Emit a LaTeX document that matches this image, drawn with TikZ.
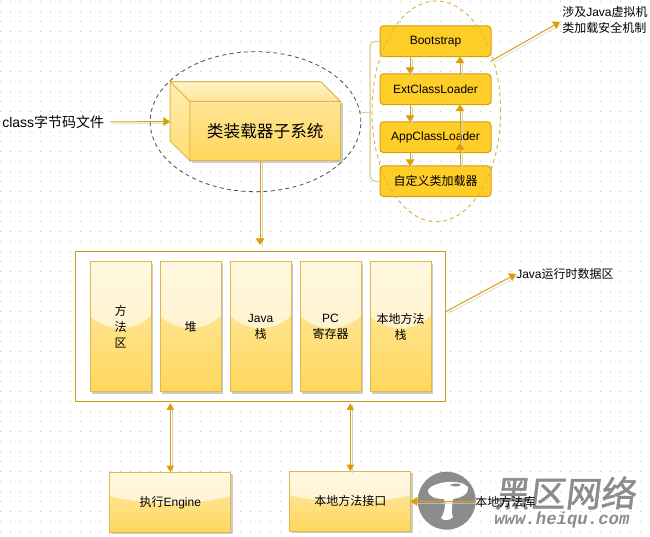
\documentclass[tikz,border=0pt]{standalone}
\usepackage{fontspec}
\setmainfont{Liberation Sans}
\setmonofont{Liberation Mono}
\newfontfamily\cjk{Noto Sans CJK SC}
\newfontfamily\markfont[FakeSlant=0.12,FakeBold=1.5]{Noto Sans CJK SC}
\usetikzlibrary{arrows.meta,calc,shapes.geometric,shadows}
\definecolor{flowgold}{HTML}{DB9E05}
\definecolor{areagold}{HTML}{C99A20}
\definecolor{loaderfill}{HTML}{FFCD28}
\definecolor{palegold}{HTML}{FFEDB0}
\definecolor{deepgold}{HTML}{FFD75C}
\definecolor{edgegold}{HTML}{E0B74F}
\definecolor{markgray}{HTML}{8C8C8C}
\tikzset{
	flow/.style={draw=flowgold,line width=0.75pt,-{Triangle[length=5pt,width=6.5pt]},
		preaction={draw=black!18,-,transform canvas={xshift=1.5pt,yshift=-1.5pt}}},
	flowboth/.style={flow,{Triangle[length=5pt,width=5.5pt]}-{Triangle[length=5pt,width=5.5pt]}},
	gloss/.style n args={2}{path picture={\fill[white,opacity=.62]
		(path picture bounding box.north west) -- ++(0,#1)
		to[out=#2,in=180-#2] ($(path picture bounding box.north east)+(0,#1)$)
		-- (path picture bounding box.north east) -- cycle;}},
	goldbox/.style={draw=edgegold,line width=0.75pt,top color=palegold,bottom color=deepgold,
		inner sep=0pt,outer sep=0pt,align=center,font=\fontsize{9}{12}\selectfont,
		drop shadow={fill=black!20,opacity=1,shadow xshift=1.5pt,shadow yshift=-1.5pt}},
	columnbox/.style={goldbox,minimum width=45.75pt,minimum height=97.5pt,gloss={54}{-45}},
	basebox/.style={goldbox,minimum width=90.5pt,minimum height=45pt,gloss={24}{-12}},
	loaderbox/.style={draw=flowgold,line width=0.75pt,fill=loaderfill,rounded corners=2.5pt,
		minimum width=83.25pt,minimum height=22.9pt,inner sep=0pt,outer sep=0pt,
		font=\fontsize{9}{11}\selectfont},
	note/.style={anchor=west,inner sep=0pt,font=\fontsize{9}{12}\selectfont,align=left},
	griddot/.style={fill=black!25},
}
\begin{document}
\begin{tikzpicture}[x=0.75pt,y=-0.75pt]
	\useasboundingbox (0,0) rectangle (650,536);
	\foreach \x in {0,10,...,650}
		\foreach \y in {1,11,...,531}
			\fill[griddot] (\x,\y) rectangle ++(1,1);

	% class loading subsystem
	\coordinate (backtl) at (170,81.5);
	\coordinate (backtr) at (320.6,81.5);
	\coordinate (backbl) at (170,141);
	\node[goldbox,minimum width=113pt,minimum height=44.6pt,top color=deepgold!65!white,
		font=\cjk\fontsize{12.5}{14}\selectfont] (front) at (265.3,131.2) {类装载器子系统};
	\draw[edgegold,line width=0.75pt,top color=palegold,bottom color=deepgold!85!white]
		(backtl)--(front.north west)--(front.south west)--(backbl)--cycle;
	\draw[edgegold,line width=0.75pt,top color=palegold!70!white,bottom color=deepgold!65!white]
		(backtl)--(backtr)--(front.north east)--(front.north west)--cycle;

	\node[anchor=west,inner sep=0pt,font=\fontsize{10.5}{12}\selectfont] (classfile)
		at (2,122) {class{\cjk 字节码文件}};
	\coordinate (sideface) at (170,121.5);
	\draw[flow,shorten <=5pt] (classfile.east) -- (sideface);

	% loaders
	\foreach \y/\nm/\texn in {41.25/boot/Bootstrap,89.25/ext/ExtClassLoader,
		137.25/app/AppClassLoader,181.25/custom/{\cjk 自定义类加载器}}
		\path (435.5,\y) node[loaderbox](\nm){\texn};
	\coordinate (dnx) at (410,0);
	\coordinate (upx) at (460,0);
	\coordinate (apptip) at (460,143);
	\foreach \a/\b in {boot/ext,ext/app,app/custom}
		\draw[flow] (\a.south -| dnx) -- (\b.north -| dnx);
	\draw[flow] (ext.north -| upx) -- (boot.south -| upx);
	\draw[flow] (apptip) -- (ext.south -| upx);
	\draw[flow] (custom.north -| upx) -- (apptip);

	\coordinate (bracex) at (370,112);
	\coordinate (bracetail) at (361,112);
	\begin{scope}[line width=0.75pt,rounded corners=4pt]
		\draw[black!18,xshift=1pt,yshift=-1pt] (boot.west) -| (bracex) |- (custom.west);
		\draw[edgegold!70!white] (boot.west) -| (bracex) |- (custom.west);
		\draw[edgegold!70!white] (bracetail) -- (bracex);
	\end{scope}

	% runtime data area
	\node[draw=areagold,fill=white,line width=0.75pt,minimum width=277.8pt,
		minimum height=112.5pt,inner sep=0pt,outer sep=0pt] (area) at (260.5,326.3) {};
	\foreach \x/\texn in {120.5/{{\cjk 方}\\{\cjk 法}\\{\cjk 区}},190.5/{\cjk 堆},
		260.5/{Java\\{\cjk 栈}},330.5/{PC\\{\cjk 寄存器}},400.5/{{\cjk 本地方法}\\{\cjk 栈}}}
		\path (\x,326.5) node[columnbox](col\x){\texn};

	\coordinate (areain) at (260,245);
	\draw[flow] (front.south -| areain) -- (areain);

	% execution and native interface
	\node[basebox] (engine) at (170.3,502.3) {{\cjk 执行}Engine};
	\node[basebox,font=\cjk\fontsize{9}{12}\selectfont] (native) at (350.3,501.3) {本地方法接口};
	\draw[flowboth,shorten >=1.5pt] (engine.north) -- (engine.north |- area.south);
	\draw[flowboth,shorten >=1.5pt] (native.north) -- (native.north |- area.south);

	% watermark
	\node[circle,fill=markgray,minimum size=43.5pt,inner sep=0pt] (logo) at (446.7,500.7) {};
	\fill[white] (428,490) .. controls (432,482) and (460,478) .. (468,487)
		.. controls (469,496) and (458,498) .. (453,499)
		.. controls (452,507) and (451,514) .. (453,517)
		.. controls (450,521) and (443,521) .. (441,518)
		.. controls (445,512) and (446,505) .. (444,499)
		.. controls (436,499) and (428,497) .. (428,490) -- cycle;
	\fill[markgray] (450,485) .. controls (454,483) and (459,483) .. (461,485)
		.. controls (458,487) and (453,487) .. (450,485) -- cycle;
	\node[anchor=west,inner sep=0pt,text=markgray,font=\markfont\fontsize{26.5}{30}\selectfont]
		(markcn) at (494,493) {黑区网络};
	\node[anchor=west,inner sep=0pt,text=markgray,font=\ttfamily\bfseries\itshape\fontsize{13}{15}\selectfont]
		(markurl) at (494,520) {www.heiqu.com};

	\node[note,font=\cjk\fontsize{9}{12}\selectfont] (nativelib) at (475,501.7) {本地方法库};
	\draw[flow] (nativelib.west) -- (native.east);

	% notes
	\node[note] (jvmnote) at (562,20) {{\cjk 涉及}Java{\cjk 虚拟机}\\{\cjk 类加载安全机制}};
	\coordinate (bootexit) at (491,61);
	\coordinate (jvmtip) at (560,22);
	\draw[flow] (bootexit) -- (jvmtip);
	\node[note] (areanote) at (516,274) {Java{\cjk 运行时数据区}};
	\coordinate (areaexit) at (446,311.5);
	\draw[flow] (areaexit) -- (areanote.west);

	% dashed outlines
	\node[ellipse,draw=black!70,dash pattern=on 3pt off 2.5pt,line width=0.6pt,minimum width=158pt,
		minimum height=105pt,inner sep=0pt] (subsystem) at (255.5,121.7) {};
	\node[ellipse,draw=edgegold,dash pattern=on 3pt off 2.5pt,line width=0.75pt,minimum width=96.5pt,
		minimum height=165.5pt,inner sep=0pt] (loaderring) at (436.3,111.3) {};
\end{tikzpicture}
\end{document}
